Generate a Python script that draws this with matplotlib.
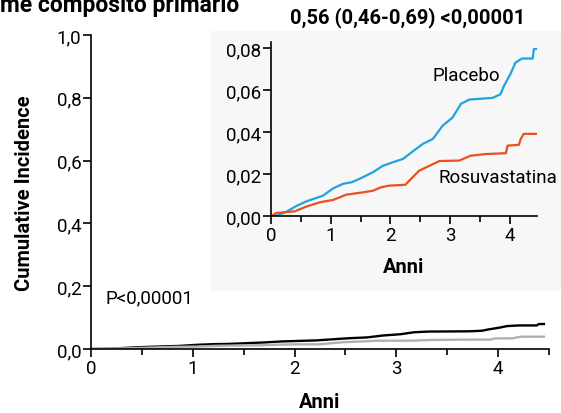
import matplotlib
matplotlib.use("Agg")
import matplotlib.pyplot as plt
from matplotlib.patches import Rectangle
from matplotlib.ticker import FuncFormatter, MultipleLocator

plt.rcParams["font.family"] = ["Roboto", "DejaVu Sans"]

# cumulative incidence curves (years, incidence)
placebo_x = [0, 0.10, 0.26, 0.43, 0.59, 0.87, 1.04, 1.21, 1.35, 1.48, 1.71, 1.87,
             2.04, 2.21, 2.37, 2.54, 2.71, 2.87, 3.04, 3.18, 3.32, 3.71, 3.84,
             3.90, 4.01, 4.09, 4.20, 4.38, 4.40, 4.45]
placebo_y = [0, 0.0003, 0.0022, 0.005, 0.0071, 0.0098, 0.0133, 0.0155, 0.0162,
             0.0178, 0.021, 0.024, 0.0257, 0.0273, 0.0308, 0.0344, 0.0368, 0.043,
             0.047, 0.0535, 0.0555, 0.0563, 0.058, 0.062, 0.0678, 0.073, 0.075,
             0.075, 0.0795, 0.0795]
rosu_x = [0, 0.09, 0.40, 0.45, 0.59, 0.82, 1.04, 1.26, 1.54, 1.71, 1.84, 1.98,
          2.25, 2.34, 2.48, 2.65, 2.82, 3.15, 3.34, 3.59, 3.93, 3.96, 4.15, 4.18,
          4.23, 4.45]
rosu_y = [0, 0.0016, 0.0024, 0.0030, 0.0046, 0.0067, 0.0078, 0.0103, 0.0114,
          0.0122, 0.0138, 0.0146, 0.0150, 0.0177, 0.0217, 0.024, 0.0263, 0.0265,
          0.0288, 0.0296, 0.0300, 0.0336, 0.0340, 0.0368, 0.0392, 0.0392]

comma1 = FuncFormatter(lambda v, p: ("%.1f" % v).replace(".", ","))
comma2 = FuncFormatter(lambda v, p: ("%.2f" % v).replace(".", ","))
intfmt = FuncFormatter(lambda v, p: "%d" % round(v))

TICK = 13.5
TEXT = 13.5

fig = plt.figure(figsize=(5.61, 4.14), dpi=100)


def style(a):
    for s in ("top", "right"):
        a.spines[s].set_visible(False)
    for s in ("left", "bottom"):
        a.spines[s].set_linewidth(1.2)
    a.xaxis.set_major_locator(MultipleLocator(1))
    a.xaxis.set_minor_locator(MultipleLocator(0.5))
    a.xaxis.set_major_formatter(intfmt)
    a.tick_params(which="both", labelsize=TICK, width=1.2, pad=1.5)
    a.tick_params(which="major", length=5.5)
    a.tick_params(which="minor", length=4)


# main panel
ax = fig.add_axes([0.1622, 0.1546, 0.8164, 0.7585])
ax.plot(placebo_x, placebo_y, color="black", lw=1.7)
ax.plot(rosu_x, rosu_y, color="#b0b0b0", lw=1.7)
ax.set_xlim(0, 4.5); ax.set_ylim(0, 1.0)
style(ax)
ax.yaxis.set_major_locator(MultipleLocator(0.2))
ax.yaxis.set_major_formatter(comma1)
ax.set_ylabel("Cumulative Incidence", fontsize=14.5, fontweight="bold", labelpad=16)
ax.set_xlabel("Anni", fontsize=14.5, fontweight="bold", labelpad=11)
ax.text(0.14, 0.15, "P<0,00001", fontsize=TEXT)

# grey panel behind the inset
fig.add_artist(Rectangle((0.3743, 0.2947), 0.6257, 0.628, transform=fig.transFigure,
                         facecolor="#f7f7f7", edgecolor="none", zorder=0.5))

# inset
ins = fig.add_axes([0.483, 0.475, 0.474, 0.4219], zorder=1)
ins.patch.set_alpha(0)
ins.plot(placebo_x, placebo_y, color="#1fa3e0", lw=1.6)
ins.plot(rosu_x, rosu_y, color="#e8501e", lw=1.6)
ins.set_xlim(0, 4.45); ins.set_ylim(0, 0.083)
style(ins)
ins.yaxis.set_major_locator(MultipleLocator(0.02))
ins.yaxis.set_major_formatter(comma2)
ins.set_xlabel("Anni", fontsize=14.5, fontweight="bold", labelpad=9)
ins.text(3.27, 0.0672, "Placebo", fontsize=TEXT, ha="center", va="center")
ins.text(2.8, 0.0187, "Rosuvastatina", fontsize=TEXT, ha="left", va="center")

fig.text(0.0, 1.0 - 12 / 414, "me composito primario", fontsize=16.5,
         fontweight="bold", ha="left", va="baseline")
fig.text(408 / 561, 1.0 - 18 / 414, "0,56 (0,46-0,69) <0,00001", fontsize=14.5,
         fontweight="bold", ha="center", va="center")

fig.savefig("out.png", dpi=100)
